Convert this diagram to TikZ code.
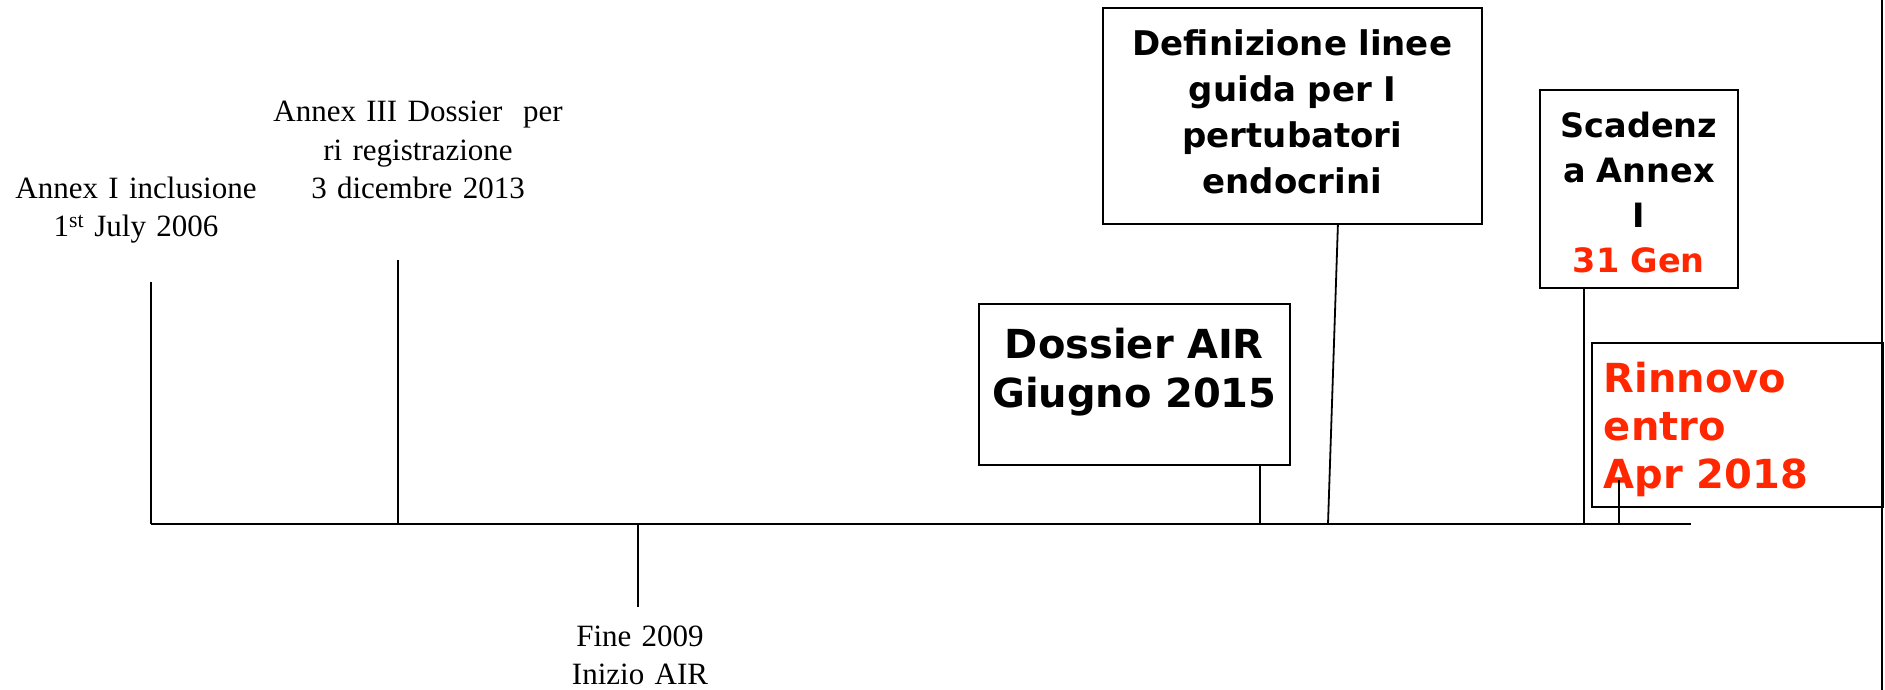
\documentclass[tikz,border=0pt]{standalone}
\usepackage{fontspec}
\setmainfont{Liberation Serif}
\newfontfamily\boxfont{DejaVu Sans}
\usepackage{xcolor}
\usetikzlibrary{positioning}
\definecolor{deadline}{RGB}{255,38,0}

\begin{document}
\begin{tikzpicture}[x=1pt,y=-1pt,line width=1.8pt]
  \tikzstyle{event}=[inner sep=0pt,align=center,anchor=base,font=\fontsize{31}{38.5}\selectfont]
  \tikzstyle{milestone}=[draw,inner sep=0pt,anchor=north west,align=center,font=\boxfont\bfseries\fontsize{34}{46}\selectfont]
  \useasboundingbox (0,0) rectangle (1885,690);

  \node[event,text width=280pt] (incl) at (136,198) {Annex I inclusione\\1\textsuperscript{st} July 2006};
  \node[event,text width=300pt] (reg) at (418,122) {Annex III Dossier~ per\\ri registrazione\\3 dicembre 2013};
  \node[event,text width=200pt] (air) at (640,646) {Fine 2009\\Inizio AIR};

  \node[milestone,font=\boxfont\bfseries\fontsize{40}{49}\selectfont,text width=311pt,text height=55pt,text depth=106pt] (dossier) at (978,303) {Dossier AIR\\Giugno 2015};
  \node[milestone,text width=379pt,text height=48pt,text depth=168pt] (guide) at (1102,7) {Definizione linee\\guida per I\\pertubatori\\endocrini};
  \node[milestone,font=\boxfont\bfseries\fontsize{33.5}{45}\selectfont,text width=198pt,text height=48pt,text depth=150pt] (expiry) at (1539,89) {Scadenz\\a Annex\\I\\\textcolor{deadline}{31 Gen}};
  \node[milestone,font=\boxfont\bfseries\fontsize{40}{48}\selectfont,text=deadline,align=left,inner xsep=12pt,text width=267pt,text height=50pt,text depth=114pt] (renew) at (1591,342) {Rinnovo\\entro\\Apr 2018};

  \coordinate (start) at (151,524);
  \coordinate (finish) at (1691,524);
  \coordinate (incl top) at (151,282);
  \coordinate (reg top) at (398,260);
  \coordinate (reg foot) at (398,524);
  \coordinate (air foot) at (638,524);
  \coordinate (air end) at (638,607);
  \coordinate (dossier foot) at (1260,524);
  \coordinate (guide foot) at (1328,524);
  \coordinate (expiry foot) at (1584,524);
  \coordinate (renew top) at (1619,480);
  \coordinate (renew foot) at (1619,524);
  \coordinate (edge top) at (1882,0);
  \coordinate (edge bottom) at (1882,690);

  \draw (start) -- (finish);
  \draw (incl top) -- (start);
  \draw (reg top) -- (reg foot);
  \draw (air foot) -- (air end);
  \draw (dossier foot |- dossier.south) -- (dossier foot);
  \draw ([xshift=45.5pt]guide.south) -- (guide foot);
  \draw (expiry foot |- expiry.south) -- (expiry foot);
  \draw (renew top) -- (renew foot);
  \draw (edge top) -- (edge bottom);

\end{tikzpicture}
\end{document}
